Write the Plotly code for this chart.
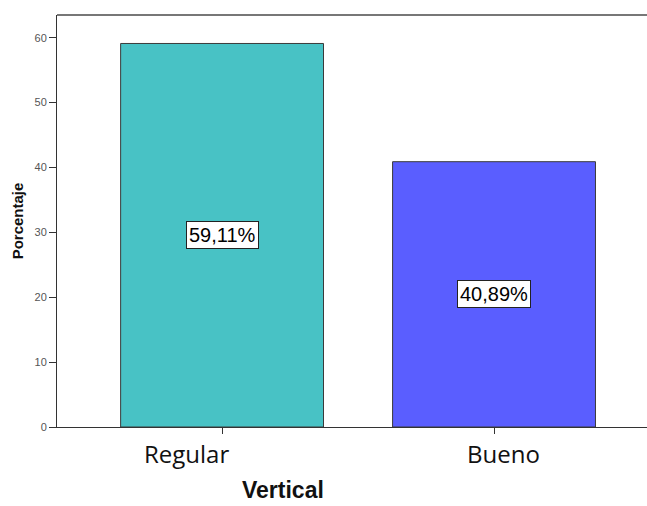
import plotly.graph_objects as go

categorias = ["Regular", "Bueno"]
porcentajes = [59.11, 40.89]
colores = ["#48C2C5", "#5A5EFF"]
etiquetas = ["59,11%", "40,89%"]
desplazamiento_etiqueta = [-36, 9]   # horizontal nudge of the category names (px)

fig = go.Figure()
fig.add_trace(go.Bar(
    x=categorias,
    y=porcentajes,
    width=0.746,
    marker=dict(color=colores, line=dict(color="#3a3a3a", width=1)),
    hoverinfo="skip",
))

# Value boxes placed at the vertical middle of each bar
for cat, val, txt in zip(categorias, porcentajes, etiquetas):
    fig.add_annotation(
        x=cat, y=val / 2, text=txt, showarrow=False,
        font=dict(family="Liberation Sans, Arial", size=20, color="#000000"),
        bgcolor="#ffffff", bordercolor="#222222", borderwidth=1, borderpad=2,
    )

# Category names under the axis
for cat, dx in zip(categorias, desplazamiento_etiqueta):
    fig.add_annotation(
        x=cat, xref="x", y=0, yref="paper", yanchor="middle",
        yshift=-26, xshift=dx, text=cat, showarrow=False,
        font=dict(family="Open Sans, Noto Sans", size=24, color="#111111"),
    )

# Axis title for the categories
fig.add_annotation(
    x=0.383, xref="paper", y=0, yref="paper", yanchor="middle", yshift=-63,
    text="<b>Vertical</b>", showarrow=False, borderpad=0,
    font=dict(family="Liberation Sans, Arial", size=23, color="#111111"),
)

# Frame line along the top of the plot area
fig.add_shape(type="line", xref="paper", yref="paper", x0=0, x1=1, y0=1, y1=1,
              line=dict(color="#777777", width=2))

fig.update_layout(
    width=647, height=506,
    margin=dict(l=57, r=0, t=15, b=79),
    paper_bgcolor="#ffffff", plot_bgcolor="#ffffff",
    showlegend=False,
    xaxis=dict(
        range=[-0.607, 1.5625],
        showline=True, linecolor="#333333", linewidth=1,
        ticks="outside", ticklen=6, tickcolor="#333333",
        showticklabels=False,
        showgrid=False, zeroline=False,
    ),
    yaxis=dict(
        range=[0, 63.5],
        tickvals=[0, 10, 20, 30, 40, 50, 60],
        showline=True, linecolor="#333333", linewidth=1,
        ticks="outside", ticklen=7, tickcolor="#333333",
        tickfont=dict(family="Liberation Sans, Arial", size=11, color="#555555"),
        title=dict(text="<b>Porcentaje</b>", standoff=7,
                   font=dict(family="Liberation Sans, Arial", size=15, color="#111111")),
        showgrid=False, zeroline=False,
    ),
)

fig.write_html("out.html")
